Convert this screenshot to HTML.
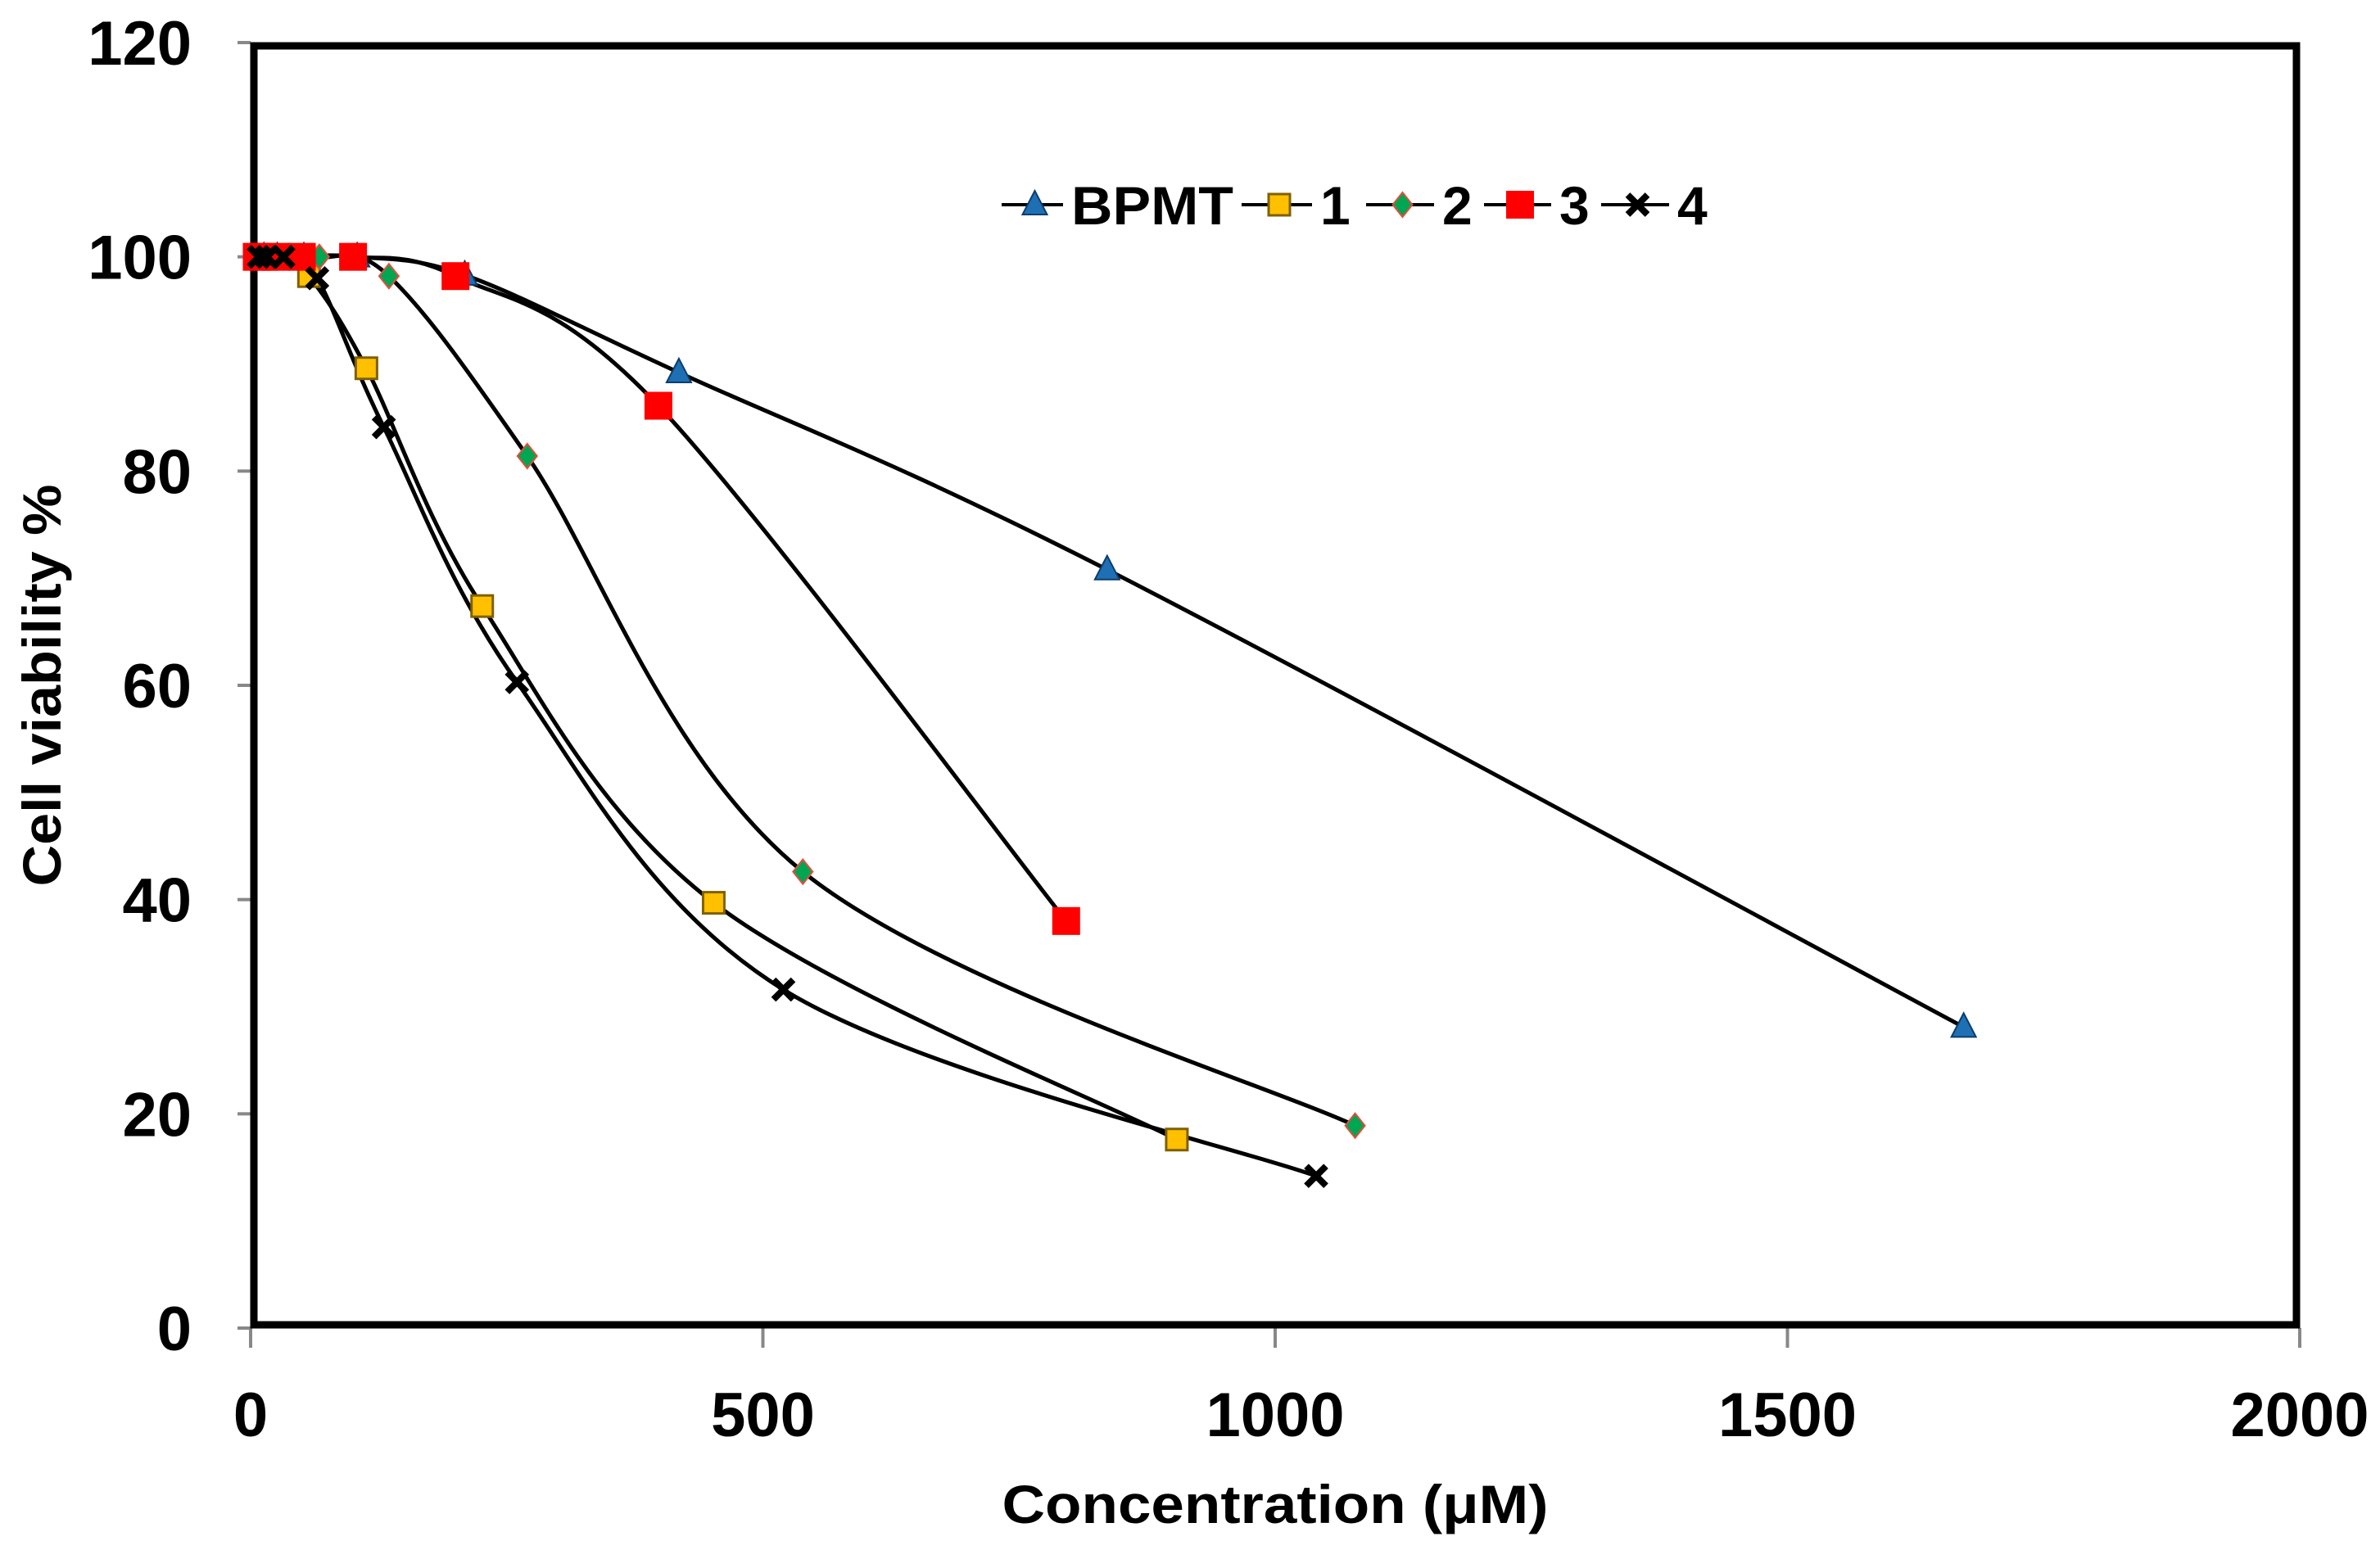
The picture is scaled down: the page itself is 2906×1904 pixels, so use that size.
<!DOCTYPE html>
<html><head><meta charset="utf-8"><style>
html,body{margin:0;padding:0;background:#fff;}
svg{display:block;font-family:"Liberation Sans",sans-serif;font-weight:bold;}
</style></head><body>
<svg id="chart" width="2906" height="1904" viewBox="0 0 2906 1904" xmlns="http://www.w3.org/2000/svg">
<rect width="2906" height="1904" fill="#fff"/>
<g id="axes"></g>
<g id="series"></g>
<g id="legend"></g>
<text x="1557" y="1860" font-size="66" text-anchor="middle" textLength="667" lengthAdjust="spacingAndGlyphs">Concentration (μM)</text>
<text transform="translate(74,837) rotate(-90)" font-size="66" text-anchor="middle" textLength="491" lengthAdjust="spacingAndGlyphs">Cell viability %</text>
</svg>
<script>
const xTicks = [0, 500, 1000, 1500, 2000];
const yTicks = [0, 20, 40, 60, 80, 100, 120];
const seriesNames = ["BPMT", "1", "2", "3", "4"];
const bpmtX = [13, 26, 52, 104, 209, 418, 836, 1672];
const bpmtY = [100, 100, 100, 100, 98.3, 89.2, 70.8, 28.1];
const s1X = [7, 14, 28, 57, 113, 226, 452, 904];
const s1Y = [100, 100, 100, 98.2, 89.6, 67.4, 39.7, 17.6];
const s2X = [8.4, 17, 34, 67, 135, 270, 539, 1078];
const s2Y = [100, 100, 100, 100, 98.2, 81.4, 42.6, 18.9];
const s3X = [6, 12.5, 25, 50, 100, 200, 398, 796];
const s3Y = [100, 100, 100, 100, 100, 98.2, 86.1, 38.0];
const s4X = [8, 16, 32, 65, 130, 260, 520, 1040];
const s4Y = [100, 100, 100, 98.0, 84.1, 60.3, 31.6, 14.2];

const NS = "http://www.w3.org/2000/svg";
const X0 = 306, X1 = 2808, Y0 = 1622, Y1 = 52;
const sx = v => X0 + v * (X1 - X0) / 2000;
const sy = v => Y0 - v * (Y0 - Y1) / 120;
function mk(tag, attrs, parent) {
  const e = document.createElementNS(NS, tag);
  for (const k in attrs) e.setAttribute(k, attrs[k]);
  parent.appendChild(e);
  return e;
}
const axes = document.getElementById("axes");
const sg = document.getElementById("series");
const lg = document.getElementById("legend");

yTicks.forEach(t => {
  const l = mk("line", {x1: X0 - 16, x2: X0, y1: sy(t), y2: sy(t), stroke: "#888", "stroke-width": 4}, axes);
  
  
  const tx = mk("text", {x: 234, y: sy(t) + 27, "font-size": 76, "text-anchor": "end"}, axes);
  tx.textContent = t;
  
  
});
xTicks.forEach(t => {
  const l = mk("line", {x1: sx(t), x2: sx(t), y1: Y0, y2: Y0 + 24, stroke: "#888", "stroke-width": 4}, axes);
  
  
  const tx = mk("text", {x: sx(t), y: 1754, "font-size": 76, "text-anchor": "middle"}, axes);
  tx.textContent = t;
  
  
});
const frame = mk("rect", {x: X0 + 4, y: Y1 + 4, width: X1 - X0 - 8, height: Y0 - Y1 - 8, fill: "none", stroke: "#000", "stroke-width": 9}, axes);



function smoothPath(pts) {
  let d = "M" + pts[0][0] + "," + pts[0][1];
  const t = 1 / 6;
  for (let i = 0; i < pts.length - 1; i++) {
    const p0 = pts[Math.max(0, i - 1)], p1 = pts[i], p2 = pts[i + 1], p3 = pts[Math.min(pts.length - 1, i + 2)];
    const c1x = p1[0] + (p2[0] - p0[0]) * t, c1y = p1[1] + (p2[1] - p0[1]) * t;
    const c2x = p2[0] - (p3[0] - p1[0]) * t, c2y = p2[1] - (p3[1] - p1[1]) * t;
    d += " C" + c1x + "," + c1y + " " + c2x + "," + c2y + " " + p2[0] + "," + p2[1];
  }
  return d;
}
function marker(kind, x, y, parent) {
  let e;
  if (kind === "tri") e = mk("polygon", {points: `${x},${y-17} ${x+15},${y+12} ${x-15},${y+12}`, fill: "#1f6fb4", stroke: "#0b3d6b", "stroke-width": 2}, parent);
  else if (kind === "sq") e = mk("rect", {x: x - 13, y: y - 13, width: 26, height: 26, fill: "#ffc000", stroke: "#7f6000", "stroke-width": 3}, parent);
  else if (kind === "dia") e = mk("polygon", {points: `${x},${y-15} ${x+12},${y} ${x},${y+15} ${x-12},${y}`, fill: "#00a651", stroke: "#e74c3c", "stroke-width": 2}, parent);
  else if (kind === "red") e = mk("rect", {x: x - 17, y: y - 17, width: 34, height: 34, fill: "#ff0000"}, parent);
  else {
    e = mk("path", {d: `M${x-12},${y-12} L${x+12},${y+12} M${x+12},${y-12} L${x-12},${y+12}`, stroke: "#000", "stroke-width": 8}, parent);
  }
  return e;
}
const allX = [bpmtX, s1X, s2X, s3X, s4X];
const allY = [bpmtY, s1Y, s2Y, s3Y, s4Y];
const kinds = ["tri", "sq", "dia", "red", "x"];
const slugs = ["bpmt", "compound-1", "compound-2", "compound-3", "compound-4"];
allX.forEach((xs, si) => {
  const pts = xs.map((v, i) => [sx(v), sy(allY[si][i])]);
  const p = mk("path", {d: smoothPath(pts), fill: "none", stroke: "#000", "stroke-width": 5}, sg);
  
  
});
allX.forEach((xs, si) => {
  xs.forEach((v, i) => {
    const m = marker(kinds[si], sx(v), sy(allY[si][i]), sg);
    
    
  });
});
const legX = [1223, 1516, 1668, 1812, 1955];
const legLen = [75, 86, 83, 82, 83];
const ly = 250;
seriesNames.forEach((n, i) => {
  const g = mk("g", {}, lg);
  
  
  mk("line", {x1: legX[i], x2: legX[i] + legLen[i], y1: ly, y2: ly, stroke: "#000", "stroke-width": 4}, g);
  marker(kinds[i], legX[i] + legLen[i] / 2 + 3, ly, g);
  const t = mk("text", {x: legX[i] + legLen[i] + 10, y: ly + 24, "font-size": 66}, g);
  t.textContent = n;
  if (i === 0) { t.setAttribute("textLength", 198); t.setAttribute("lengthAdjust", "spacingAndGlyphs"); }
});
</script>
</body></html>
